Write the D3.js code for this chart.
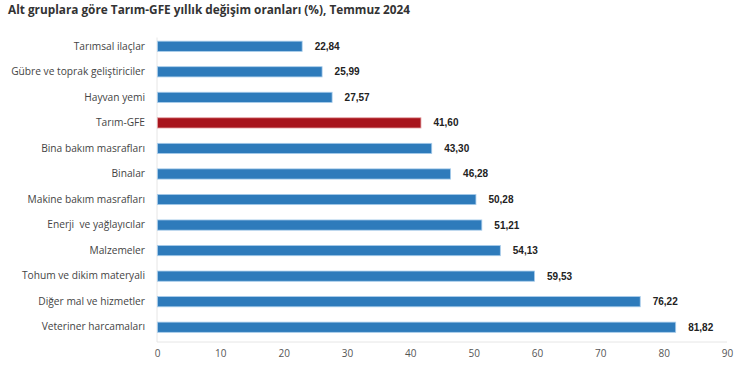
<!DOCTYPE html>
<html>
<head>
<meta charset="utf-8">
<script src="https://cdn.jsdelivr.net/npm/d3@7"></script>
<style>
  body { margin: 0; background: #fff; }
  svg { display: block; font-family: "Open Sans", "Noto Sans", sans-serif; }
</style>
</head>
<body>
<div id="chart"></div>
<script>
// data
var categories = ["Tarımsal ilaçlar", "Gübre ve toprak geliştiriciler", "Hayvan yemi", "Tarım-GFE",
    "Bina bakım masrafları", "Binalar", "Makine bakım masrafları", "Enerji  ve yağlayıcılar",
    "Malzemeler", "Tohum ve dikim materyali", "Diğer mal ve hizmetler", "Veteriner harcamaları"];
var values = [22.84, 25.99, 27.57, 41.60, 43.30, 46.28, 50.28, 51.21, 54.13, 59.53, 76.22, 81.82];
var xTicks = [0, 10, 20, 30, 40, 50, 60, 70, 80, 90];
var highlight = "Tarım-GFE";

var w = 750, h = 373;
var margin = { top: 33.5, right: 23, bottom: 33, left: 157 };
var width = w - margin.left - margin.right,
    height = h - margin.top - margin.bottom;

var data = categories.map(function(c, i) { return { name: c, value: values[i] }; });

var svg = d3.select('#chart').append('svg')
    .attr('width', w)
    .attr('height', h);

svg.append('text')
    .attr('x', 8)
    .attr('y', 14)
    .attr('font-size', '11.8px')
    .attr('font-weight', 'bold')
    .attr('fill', '#333')
    .text('Alt gruplara göre Tarım-GFE yıllık değişim oranları (%), Temmuz 2024');

var g = svg.append('g')
    .attr('transform', 'translate(' + margin.left + ',' + margin.top + ')');

var x = d3.scaleLinear().domain([0, 90]).range([0, width]);
var y = d3.scaleBand().domain(categories).range([0, height]).paddingInner(0.6).paddingOuter(0.3);

// axis lines (light gray)
g.append('line')
    .attr('x1', 0).attr('x2', 0)
    .attr('y1', 4).attr('y2', height + 2)
    .attr('stroke', '#e6e6e6');
g.append('line')
    .attr('x1', 0).attr('x2', width)
    .attr('y1', height + 2).attr('y2', height + 2)
    .attr('stroke', '#e6e6e6');

// x axis
var xAxis = g.append('g')
    .attr('transform', 'translate(0,' + (height + 2) + ')')
    .call(d3.axisBottom(x).tickValues(xTicks).tickSize(0).tickPadding(8));
xAxis.select('.domain').remove();
xAxis.selectAll('text')
    .attr('font-family', '"Open Sans", "Noto Sans", sans-serif')
    .attr('font-size', '10px')
    .attr('fill', '#555');

// y axis (category labels)
var yAxis = g.append('g')
    .call(d3.axisLeft(y).tickSize(0).tickPadding(12));
yAxis.select('.domain').remove();
yAxis.selectAll('text')
    .attr('font-family', '"Open Sans", "Noto Sans", sans-serif')
    .attr('font-size', '10.2px')
    .attr('fill', '#444')
    .style('white-space', 'pre')
    .attr('xml:space', 'preserve');

// bars
g.selectAll('rect.bar')
    .data(data)
    .enter().append('rect')
    .attr('class', 'bar')
    .attr('x', x(0) + 0.5)
    .attr('y', (d) => y(d.name))
    .attr('width', (d) => x(d.value) - x(0))
    .attr('height', y.bandwidth())
    .attr('fill', (d) => d.name === highlight ? '#a8141c' : '#2e7bbb')
    .attr('stroke', (d) => d.name === highlight ? '#e3a0a3' : '#a9cdeb')
    .attr('stroke-width', 0.8);

// value labels
g.append('g').attr('id', 'valueLabels').selectAll('text')
    .data(data)
    .enter().append('text')
    .text((d) => d.value.toFixed(2).replace('.', ','))
    .attr('x', (d) => x(d.value) + 13)
    .attr('y', (d) => y(d.name) + y.bandwidth() / 2)
    .attr('dy', '.35em')
    .attr('font-family', '"Liberation Sans", Arial, sans-serif')
    .attr('font-size', '10px')
    .attr('font-weight', 'bold')
    .attr('fill', '#222');
</script>
</body>
</html>
